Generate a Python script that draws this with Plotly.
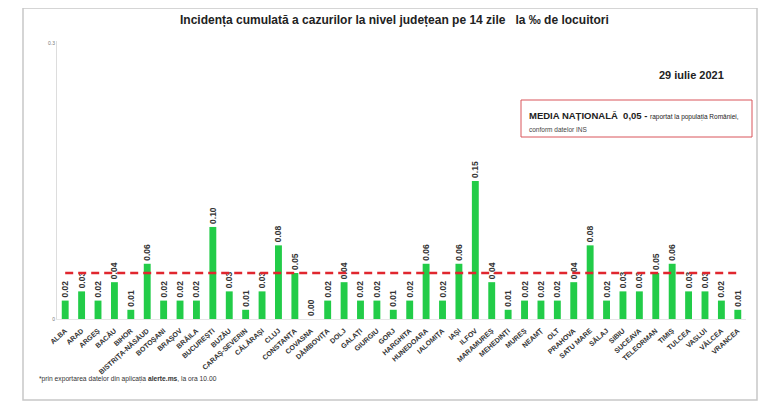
import plotly.graph_objects as go

judete = ["ALBA", "ARAD", "ARGEȘ", "BACĂU", "BIHOR", "BISTRIȚA-NĂSĂUD", "BOTOȘANI", "BRAȘOV",
          "BRĂILA", "BUCUREȘTI", "BUZĂU", "CARAȘ-SEVERIN", "CĂLĂRAȘI", "CLUJ", "CONSTANȚA",
          "COVASNA", "DÂMBOVIȚA", "DOLJ", "GALAȚI", "GIURGIU", "GORJ", "HARGHITA", "HUNEDOARA",
          "IALOMIȚA", "IAȘI", "ILFOV", "MARAMUREȘ", "MEHEDINȚI", "MUREȘ", "NEAMȚ", "OLT",
          "PRAHOVA", "SATU MARE", "SĂLAJ", "SIBIU", "SUCEAVA", "TELEORMAN", "TIMIȘ", "TULCEA",
          "VASLUI", "VÂLCEA", "VRANCEA"]
incidenta = [0.02, 0.03, 0.02, 0.04, 0.01, 0.06, 0.02, 0.02,
             0.02, 0.10, 0.03, 0.01, 0.03, 0.08, 0.05,
             0.00, 0.02, 0.04, 0.02, 0.02, 0.01, 0.02, 0.06,
             0.02, 0.06, 0.15, 0.04, 0.01, 0.02, 0.02, 0.02,
             0.04, 0.08, 0.02, 0.03, 0.03, 0.05, 0.06, 0.03,
             0.03, 0.02, 0.01]
media_nationala = 0.05
y_ticks = [0, 0.3]
y_tick_labels = ["0", "0.3"]

# page offset (browser body margin)
O = 8
FW, FH = 768 - O, 417 - O
# plot area in page pixels
L, R, T, B = 57, 746, 41, 319
W, H = R - L, B - T
def px(x):
    return (x - L) / W
def py(y):
    return (B - y) / H

fig = go.Figure()
fig.add_trace(go.Bar(
    x=judete, y=incidenta,
    marker=dict(color="#22cc48", line=dict(width=0)),
    text=[f"{v:.2f}" for v in incidenta],
    textposition="outside", textangle=-90, constraintext="none",
    textfont=dict(family="Liberation Sans", size=8.5, color="#333333"),
    texttemplate="<b>%{text}</b>",
    cliponaxis=False,
    width=0.42,
))

fig.add_shape(type="line", xref="x", yref="y",
              x0=judete[0], x1=judete[-1], y0=media_nationala, y1=media_nationala,
              line=dict(color="#e0262e", width=2.5, dash="8px,5px"))

# outer frame
fig.add_shape(type="rect", xref="paper", yref="paper",
              x0=px(23), x1=px(757), y0=py(400), y1=py(8),
              line=dict(color="#c8c8c8", width=1.5), layer="below")
# media box
fig.add_shape(type="rect", xref="paper", yref="paper",
              x0=px(521), x1=px(752), y0=py(137), y1=py(100),
              line=dict(color="#d9555a", width=1), fillcolor="white")

ann = [
    dict(x=px(394), y=py(20), text="<b>Incidența cumulată a cazurilor la nivel județean pe 14 zile   la ‰ de locuitori</b>",
         font=dict(size=12, color="#222222"), xanchor="center", yanchor="middle"),
    dict(x=px(691), y=py(75), text="<b>29 iulie 2021</b>",
         font=dict(size=11, color="#222222"), xanchor="center", yanchor="middle"),
    dict(x=px(527), y=py(115), text="<b>MEDIA NAȚIONALĂ  0,05 -</b> <span style='font-size:6.5px'>raportat la populația României,</span>",
         font=dict(size=9.5, color="#222222"), xanchor="left", yanchor="middle"),
    dict(x=px(527), y=py(129), text="conform datelor INS",
         font=dict(size=6.5, color="#444444"), xanchor="left", yanchor="middle"),
    dict(x=px(37), y=py(379), text="*prin exportarea datelor din aplicația <b>alerte.ms</b>, la ora 10.00",
         font=dict(size=6.7, color="#333333"), xanchor="left", yanchor="middle"),
]
for a in ann:
    a.update(xref="paper", yref="paper", showarrow=False)
fig.update_layout(annotations=ann)

fig.update_layout(
    width=FW, height=FH,
    margin=dict(l=L - O, r=768 - R, t=T - O, b=417 - B, autoexpand=False),
    paper_bgcolor="white", plot_bgcolor="white",
    font=dict(family="Liberation Sans"),
    showlegend=False,
    xaxis=dict(tickangle=-42, tickfont=dict(size=7, color="#333333", family="Liberation Sans"),
               showline=True, linecolor="#e6e6e6", linewidth=1, ticks="", showgrid=False,
               ticklabelstandoff=4,
               tickprefix="<b>", ticksuffix="</b>"),
    yaxis=dict(range=[0, 0.302], tickvals=y_ticks, ticktext=y_tick_labels,
               tickfont=dict(size=5, color="#777777"), showgrid=False, zeroline=False,
               showline=True, linecolor="#dddddd", linewidth=1, ticks=""),
)

fig.write_html("out.html")
